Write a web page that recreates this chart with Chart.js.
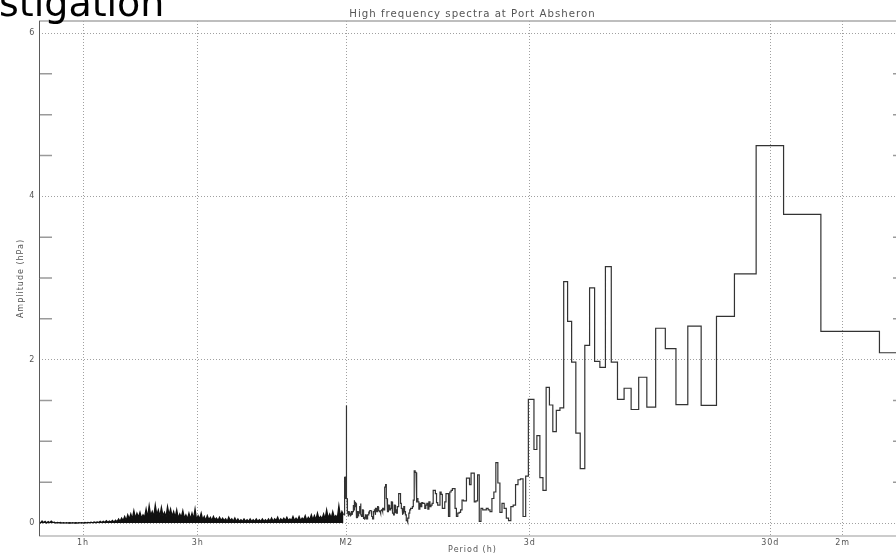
<!DOCTYPE html>
<html>
<head>
<meta charset="utf-8">
<script src="https://cdn.jsdelivr.net/npm/chart.js@4.4.0/dist/chart.umd.min.js"></script>
<style>
  html, body { margin: 0; padding: 0; background: #fff; overflow: hidden; }
  #wrap { position: relative; width: 906px; height: 554px; }
  #spectrum { position: absolute; left: 0; top: 0; }
  #slideTitle {
    position: absolute; left: -1px; top: -16px; z-index: 2;
    font: 38px/38px "DejaVu Sans", sans-serif; color: #000; white-space: nowrap;
  }
</style>
</head>
<body>
<div id="wrap">
  <canvas id="spectrum" width="906" height="554"></canvas>
  <div id="slideTitle">stigation</div>
</div>
<script>
const FONT = '"DejaVu Sans", sans-serif';
const TEXT = '#555';

// period axis (hours) and its named marks
const periodTicks = [1, 3, 12.42, 72, 720, 1440];
const periodLabels = ['1h', '3h', 'M2', '3d', '30d', '2m'];
const periodMin = 0.656;
const periodMax = 2640;

// amplitude axis (hPa)
const ampTicks = [0, 0.5, 1, 1.5, 2, 2.5, 3, 3.5, 4, 4.5, 5, 5.5, 6];
const ampLabelled = [0, 2, 4, 6];
const ampMin = -0.159;
const ampMax = 6.147;

// spectral bins: bin j covers frequencies (j-1+binOffset)/recordHours .. (j+binOffset)/recordHours
const recordHours = 2723;
const binOffset = 0.33;

// bins 1..38 (longest periods)
const longPeriodAmp = [
  2.085, 2.347, 3.78, 4.62, 3.05, 2.53, 1.44, 2.41, 1.45, 2.135,
  2.385, 1.42, 1.785, 1.39, 1.65, 1.515, 1.97, 3.14, 1.905, 1.98,
  2.88, 2.175, 0.665, 1.10, 1.97, 2.47, 2.955, 1.41, 1.38, 1.12,
  1.445, 1.66, 0.40, 0.555, 1.07, 0.90, 1.515, 1.515
];

// bins 39..224 (3 days down to the semidiurnal band)
const tidalBandAmp = [
  0.575, 0.08, 0.54, 0.53, 0.47, 0.22, 0.20, 0.03, 0.06, 0.18,
  0.24, 0.13, 0.49, 0.74, 0.38, 0.30, 0.14, 0.16, 0.18, 0.16,
  0.16, 0.18, 0.02, 0.59, 0.27, 0.26, 0.61, 0.61, 0.47, 0.55,
  0.55, 0.27, 0.27, 0.28, 0.16, 0.13, 0.12, 0.08, 0.18, 0.42,
  0.42, 0.40, 0.38, 0.08, 0.36, 0.36, 0.26, 0.18, 0.18, 0.35,
  0.38, 0.22, 0.22, 0.25, 0.36, 0.40, 0.40, 0.24, 0.22, 0.20,
  0.26, 0.17, 0.24, 0.22, 0.18, 0.24, 0.24, 0.25, 0.20, 0.24,
  0.17, 0.26, 0.30, 0.25, 0.62, 0.64, 0.28, 0.20, 0.18, 0.18,
  0.16, 0.12, 0.06, 0.01, 0.03, 0.10, 0.14, 0.20, 0.12, 0.10,
  0.18, 0.24, 0.36, 0.36, 0.34, 0.20, 0.12, 0.16, 0.12, 0.22,
  0.10, 0.12, 0.22, 0.26, 0.18, 0.16, 0.20, 0.22, 0.14, 0.24,
  0.30, 0.47, 0.44, 0.18, 0.16, 0.18, 0.14, 0.16, 0.15, 0.12,
  0.14, 0.15, 0.17, 0.20, 0.14, 0.16, 0.18, 0.10, 0.16, 0.14,
  0.06, 0.05, 0.08, 0.14, 0.15, 0.16, 0.15, 0.12, 0.14, 0.10,
  0.06, 0.05, 0.08, 0.10, 0.06, 0.04, 0.07, 0.05, 0.16, 0.10,
  0.08, 0.10, 0.24, 0.20, 0.16, 0.12, 0.08, 0.14, 0.06, 0.10,
  0.06, 0.24, 0.26, 0.20, 0.28, 0.16, 0.22, 0.14, 0.10, 0.14,
  0.12, 0.10, 0.08, 0.12, 0.10, 0.14, 0.08, 0.12, 0.20, 0.30,
  1.44, 0.30, 0.57, 0.56, 0.20, 0.10
];

// short periods, sampled evenly in log period from shortStart to shortEnd
const shortStart = 0.656;
const shortEnd = 12.1;
const shortPeriodAmp = [
  0.02, 0.0, 0.025, 0.005, 0.02, 0.0, 0.018, 0.004, 0.022, 0.006,
  0.01, 0.0, 0.008, 0.002, 0.006, 0.0, 0.005, 0.0, 0.004, 0.0,
  0.003, 0.0, 0.004, 0.0, 0.003, 0.0, 0.004, 0.001, 0.005, 0.0,
  0.006, 0.001, 0.008, 0.002, 0.01, 0.003, 0.012, 0.004, 0.014, 0.005,
  0.02, 0.006, 0.022, 0.008, 0.028, 0.01, 0.025, 0.012, 0.032, 0.01,
  0.035, 0.015, 0.05, 0.02, 0.06, 0.03, 0.08, 0.03, 0.1, 0.05,
  0.11, 0.05, 0.15, 0.06, 0.12, 0.07, 0.13, 0.06, 0.10, 0.07,
  0.17, 0.07, 0.21, 0.09, 0.14, 0.08, 0.22, 0.10, 0.16, 0.08,
  0.19, 0.09, 0.13, 0.07, 0.20, 0.10, 0.17, 0.08, 0.14, 0.07,
  0.16, 0.06, 0.11, 0.07, 0.15, 0.06, 0.10, 0.05, 0.12, 0.05,
  0.12, 0.05, 0.17, 0.04, 0.09, 0.05, 0.12, 0.04, 0.08, 0.03,
  0.09, 0.04, 0.07, 0.03, 0.08, 0.04, 0.06, 0.03, 0.07, 0.03,
  0.06, 0.03, 0.05, 0.02, 0.07, 0.03, 0.05, 0.02, 0.06, 0.02,
  0.05, 0.02, 0.04, 0.02, 0.05, 0.02, 0.04, 0.02, 0.05, 0.02,
  0.04, 0.02, 0.05, 0.02, 0.04, 0.02, 0.05, 0.02, 0.04, 0.02,
  0.05, 0.02, 0.06, 0.02, 0.05, 0.03, 0.07, 0.02, 0.05, 0.03,
  0.06, 0.03, 0.07, 0.03, 0.05, 0.03, 0.08, 0.03, 0.06, 0.03,
  0.08, 0.03, 0.06, 0.04, 0.09, 0.03, 0.07, 0.04, 0.10, 0.04,
  0.09, 0.04, 0.12, 0.05, 0.08, 0.05, 0.11, 0.05, 0.16, 0.06,
  0.11, 0.06, 0.14, 0.07, 0.09, 0.06, 0.21, 0.08, 0.14, 0.10
];

// step outline of the binned spectrum, ordered by increasing period
const binAmp = longPeriodAmp.concat(tidalBandAmp);
const stepPoints = [];
for (let j = binAmp.length; j >= 1; j--) {
  const a = binAmp[j - 1];
  stepPoints.push({ x: recordHours / (j + binOffset), y: a });
  stepPoints.push({ x: recordHours / (j - 1 + binOffset), y: a });
}

const logA = Math.log10(shortStart);
const logB = Math.log10(shortEnd);
const shortPoints = shortPeriodAmp.map((a, i) => ({
  x: Math.pow(10, logA + (logB - logA) * i / (shortPeriodAmp.length - 1)),
  y: a
}));

// plot frame and the inward half-unit ticks on both sides
const framePlugin = {
  id: 'frame',
  beforeDraw(chart) {
    chart.ctx.letterSpacing = '1px';
  },
  afterDatasetsDraw(chart) {
    const { ctx, chartArea: a, scales: { y } } = chart;
    ctx.save();
    ctx.strokeStyle = '#9a9a9a';
    ctx.lineWidth = 1.5;
    ampTicks.filter(v => !ampLabelled.includes(v)).forEach(v => {
      const py = y.getPixelForValue(v);
      ctx.beginPath();
      ctx.moveTo(a.left, py);
      ctx.lineTo(a.left + 13, py);
      ctx.moveTo(a.right - 13, py);
      ctx.lineTo(a.right, py);
      ctx.stroke();
    });
    ctx.strokeStyle = '#a8a8a8';
    ctx.lineWidth = 1.5;
    ctx.beginPath();
    ctx.moveTo(a.left, a.top);
    ctx.lineTo(a.right, a.top);
    ctx.stroke();
    ctx.strokeStyle = '#9a9a9a';
    ctx.lineWidth = 1.2;
    ctx.beginPath();
    ctx.moveTo(a.left, a.bottom);
    ctx.lineTo(a.right, a.bottom);
    ctx.stroke();
    ctx.strokeStyle = '#5a5a5a';
    ctx.lineWidth = 1;
    ctx.beginPath();
    ctx.moveTo(a.left + 0.5, a.top);
    ctx.lineTo(a.left + 0.5, a.bottom);
    ctx.stroke();
    ctx.restore();
  }
};

new Chart(document.getElementById('spectrum'), {
  type: 'line',
  data: {
    datasets: [
      {
        data: shortPoints, borderColor: '#111', borderWidth: 1.3,
        backgroundColor: '#111', fill: 'origin', pointRadius: 0, tension: 0
      },
      { data: stepPoints, borderColor: '#333', borderWidth: 1.2, pointRadius: 0, tension: 0 }
    ]
  },
  options: {
    responsive: false,
    animation: false,
    events: [],
    layout: { padding: 0 },
    plugins: {
      legend: { display: false },
      tooltip: { enabled: false },
      title: {
        display: true,
        fullSize: false,
        text: 'High frequency spectra at Port Absheron',
        color: TEXT,
        font: { family: FONT, size: 10.2, weight: 'normal', lineHeight: 1.2 },
        padding: { top: 7.8, bottom: 0.96 }
      }
    },
    scales: {
      x: {
        type: 'logarithmic',
        min: periodMin,
        max: periodMax,
        afterBuildTicks: s => { s.ticks = periodTicks.map(v => ({ value: v })); },
        afterFit: s => { s.height = 18; },
        ticks: {
          autoSkip: false, maxRotation: 0, padding: 1.7, color: TEXT,
          font: { family: FONT, size: 8 },
          callback: (v, i) => periodLabels[i]
        },
        grid: { color: '#a0a0a0', lineWidth: 1, drawTicks: false },
        border: { display: false, dash: [1, 2] },
        title: {
          display: true, text: 'Period (h)', color: TEXT,
          font: { family: FONT, size: 8, lineHeight: 1 },
          padding: { top: 0, bottom: 0 }
        }
      },
      y: {
        min: ampMin,
        max: ampMax,
        afterBuildTicks: s => { s.ticks = ampTicks.map(v => ({ value: v })); },
        afterFit: s => { s.width = 39; },
        ticks: {
          autoSkip: false, padding: 3.7, color: TEXT,
          font: { family: FONT, size: 8 },
          callback: v => (ampLabelled.includes(v) ? String(v) : '')
        },
        grid: {
          color: c => (ampLabelled.includes(c.tick.value) ? '#a0a0a0' : 'rgba(0,0,0,0)'),
          lineWidth: 1,
          drawTicks: false
        },
        border: { display: false, dash: [1, 2] },
        title: {
          display: true, text: 'Amplitude (hPa)', color: TEXT,
          font: { family: FONT, size: 8, lineHeight: 1 },
          padding: { top: 16.8, bottom: 0 }
        }
      }
    }
  },
  plugins: [framePlugin]
});
</script>
</body>
</html>
